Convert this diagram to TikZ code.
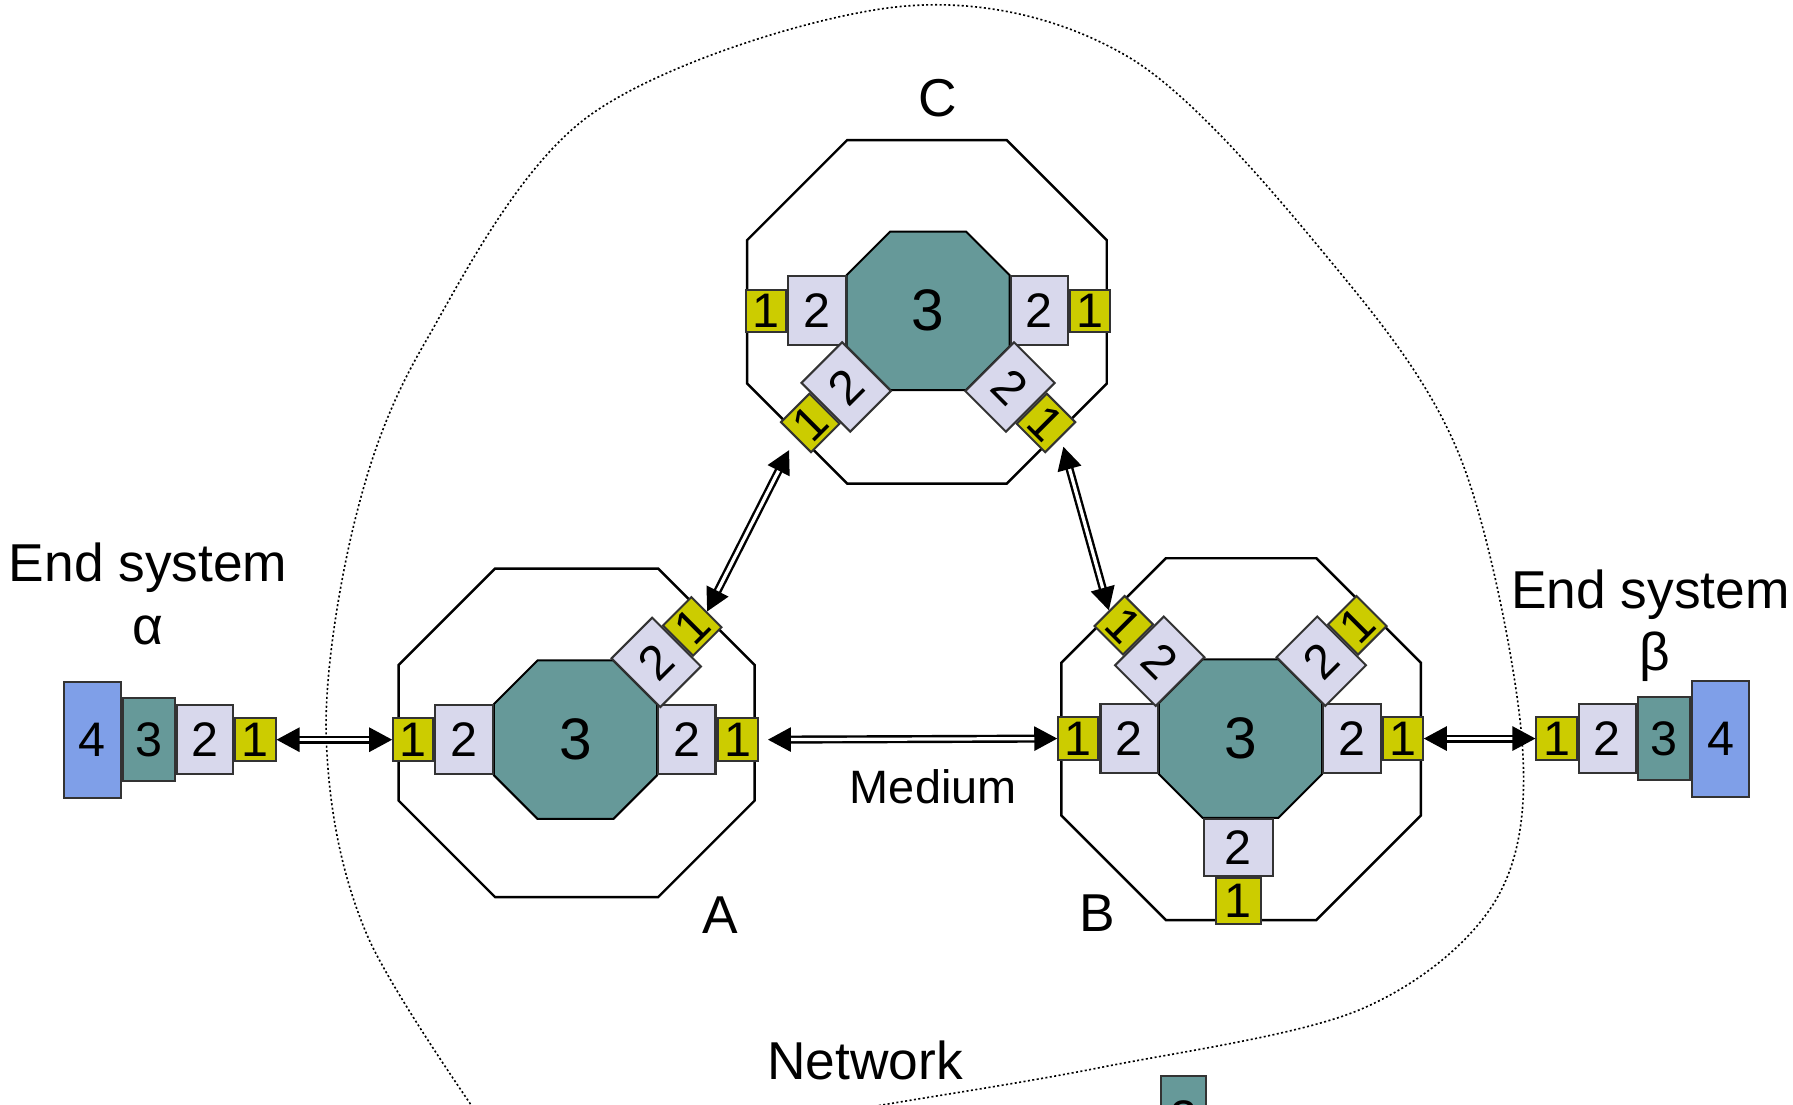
\documentclass[tikz,border=0pt]{standalone}
\usepackage{fontspec}
\setmainfont{Liberation Sans}
\usetikzlibrary{positioning, calc, arrows.meta}

\definecolor{layyellow}{RGB}{204,204,0}
\definecolor{laylav}{RGB}{216,216,236}
\definecolor{layteal}{RGB}{102,153,153}
\definecolor{layblue}{RGB}{127,159,232}

% [style] cx, cy, half width, half height, chamfer
\newcommand{\octagon}[6][]{%
  \draw[#1] (#2-#4+#6,#3-#5) -- (#2+#4-#6,#3-#5) -- (#2+#4,#3-#5+#6) -- (#2+#4,#3+#5-#6)
    -- (#2+#4-#6,#3+#5) -- (#2-#4+#6,#3+#5) -- (#2-#4,#3+#5-#6) -- (#2-#4,#3-#5+#6) -- cycle;}

\tikzset{
  lay1/.style={draw=black!80, line width=0.5pt, fill=layyellow, minimum width=3.5mm, minimum height=3.7mm, inner sep=0pt, font=\fontsize{12}{12}\selectfont},
  lay2/.style={draw=black!80, line width=0.5pt, fill=laylav, minimum width=5mm, minimum height=6mm, inner sep=0pt, font=\fontsize{12}{12}\selectfont},
  lay3/.style={draw=black!80, line width=0.5pt, fill=layteal, minimum width=4.5mm, minimum height=7.2mm, inner sep=0pt, font=\fontsize{12}{12}\selectfont},
  lay4/.style={draw=black!80, line width=0.5pt, fill=layblue, minimum width=5mm, minimum height=10.1mm, inner sep=0pt, font=\fontsize{12}{12}\selectfont},
  lay2v/.style={lay2, minimum width=6mm, minimum height=5mm},
  lay1v/.style={lay1, minimum width=3.9mm, minimum height=4mm},
  relay/.style={draw, line width=0.5pt, fill=layteal},
  box/.style={draw, line width=0.6pt},
  link/.style={double=white, double distance=0.8pt, line width=0.6pt,
    {Triangle[length=2mm, width=2.1mm]}-{Triangle[length=2mm, width=2.1mm]}},
  sysname/.style={anchor=base, inner sep=0pt, font=\fontsize{13.2}{15}\selectfont},
  big/.style={font=\fontsize{14.5}{14.5}\selectfont}
}

\begin{document}
\begin{tikzpicture}[x=0.01cm, y=-0.01cm]
    \useasboundingbox (0,0) rectangle (1561,962);
    \clip (0,0) rectangle (1561,962);

    % network
    \draw[line width=0.4pt, dash pattern=on 0.5pt off 0.6pt] plot[smooth, tension=0.55] coordinates {
      (445,1012) (320,815) (284,641) (309,453) (369,300) (514,100) (781,6) (983,50)
      (1163,233) (1272,400) (1325,644) (1302,784) (1184,879) (960,929) (774,961) (690,975)};
    \node[sysname] (network) at (753,940) {Network};
    \node[lay3, minimum width=3.9mm] (legend_3) at (1030.5,973) {3};

    % A
    \octagon[box]{502}{638}{155}{143}{84}
    \octagon[relay]{501}{644}{71}{69}{38}
    \coordinate (A_c) at (501,644);
    \node[big] (A_3) at (A_c) {3};
    \node[lay2, anchor=east] (A_2w) at ($(A_c)+(-71,0)$) {2};
    \node[lay1, anchor=east] (A_1w) at (A_2w.west) {1};
    \node[lay2, anchor=west] (A_2e) at ($(A_c)+(71,0)$) {2};
    \node[lay1, anchor=west] (A_1e) at (A_2e.east) {1};
    \node[lay2, rotate=45, anchor=west] (A_2ne) at ($(A_c)+(52,-49)$) {2};
    \node[lay1, rotate=45, anchor=west] (A_1ne) at (A_2ne.east) {1};
    \node[sysname] (A_t) at (627,812.6) {A};

    % C
    \octagon[box]{807}{271.5}{156.5}{149.5}{87}
    \octagon[relay]{808}{270.6}{71}{69}{38}
    \coordinate (C_c) at (808,270.6);
    \node[big] (C_3) at (C_c) {3};
    \node[lay2, anchor=east] (C_2w) at ($(C_c)+(-71,0)$) {2};
    \node[lay1, anchor=east] (C_1w) at (C_2w.west) {1};
    \node[lay2, anchor=west] (C_2e) at ($(C_c)+(71,0)$) {2};
    \node[lay1, anchor=west] (C_1e) at (C_2e.east) {1};
    \node[lay2, rotate=45, anchor=east] (C_2sw) at ($(C_c)+(-53,48)$) {2};
    \node[lay1, rotate=45, anchor=east] (C_1sw) at (C_2sw.west) {1};
    \node[lay2, rotate=-45, anchor=west] (C_2se) at ($(C_c)+(53,48)$) {2};
    \node[lay1, rotate=-45, anchor=west] (C_1se) at (C_2se.east) {1};
    \node[sysname] (C_t) at (816,101.6) {C};

    % B
    \octagon[box]{1080.5}{643.5}{156.5}{157.5}{91}
    \octagon[relay]{1080}{643}{71}{69}{38}
    \coordinate (B_c) at (1080,643);
    \node[big] (B_3) at (B_c) {3};
    \node[lay2, anchor=east] (B_2w) at ($(B_c)+(-71,0)$) {2};
    \node[lay1, anchor=east] (B_1w) at (B_2w.west) {1};
    \node[lay2, anchor=west] (B_2e) at ($(B_c)+(71,0)$) {2};
    \node[lay1, anchor=west] (B_1e) at (B_2e.east) {1};
    \node[lay2, rotate=-45, anchor=east] (B_2nw) at ($(B_c)+(-52,-49)$) {2};
    \node[lay1, rotate=-45, anchor=east] (B_1nw) at (B_2nw.west) {1};
    \node[lay2, rotate=45, anchor=west] (B_2ne) at ($(B_c)+(52,-49)$) {2};
    \node[lay1, rotate=45, anchor=west] (B_1ne) at (B_2ne.east) {1};
    \node[lay2v, anchor=north] (B_2s) at ($(B_c)+(-2,69)$) {2};
    \node[lay1v, anchor=north] (B_1s) at (B_2s.south) {1};
    \node[sysname] (B_t) at (955,811) {B};

    % end systems
    \node[lay4] (al_4) at (80.5,644) {4};
    \node[lay3, right=0pt of al_4] (al_3) {3};
    \node[lay2, minimum width=4.9mm, right=0pt of al_3] (al_2) {2};
    \node[lay1, right=0pt of al_2] (al_1) {1};
    \node[sysname] (al_t) at (129,506) {End system};
    \node[sysname] (al_g) at (129,561) {α};

    \node[lay4] (be_4) at (1498,643) {4};
    \node[lay3, left=0pt of be_4] (be_3) {3};
    \node[lay2, left=0pt of be_3] (be_2) {2};
    \node[lay1, left=0pt of be_2] (be_1) {1};
    \node[sysname] (be_t) at (1437,529.6) {End system};
    \node[sysname] (be_g) at (1441,584) {β};

    % links
    \draw[link] (al_1.east) -- (A_1w.west);
    \draw[link, shorten <=0.8mm] (A_1e.east) -- (B_1w.west);
    \draw[link] (B_1e.east) -- (be_1.west);
    \draw[link, shorten >=1.2mm] (A_1ne.east) -- (C_1sw.west);
    \draw[link, shorten <=0.8mm] (C_1se.east) -- (B_1nw.west);
    \node[sysname, font=\fontsize{11.6}{14}\selectfont] (medium) at (812.5,699.5) {Medium};
\end{tikzpicture}
\end{document}
